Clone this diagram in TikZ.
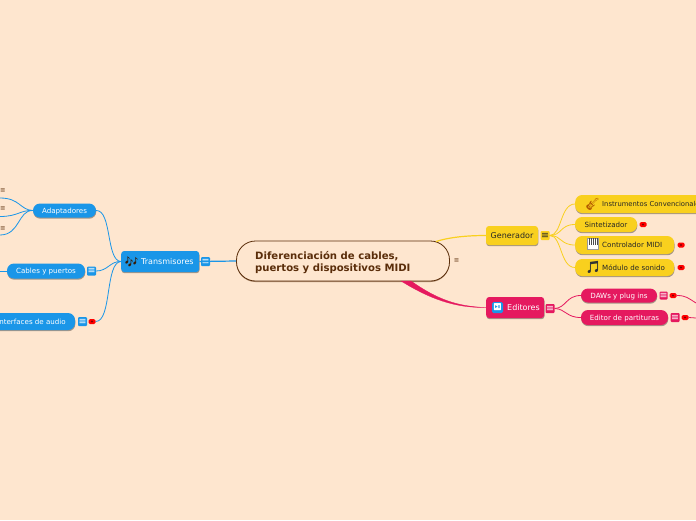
\documentclass[tikz,border=0pt]{standalone}
\usepackage{fontspec}
\setmainfont{DejaVu Sans}
\newfontfamily\emojifont{Noto Emoji}
\usetikzlibrary{shadows}
\definecolor{fondo}{HTML}{FEE6CF}
\definecolor{azul}{HTML}{1A96E8}
\definecolor{amarillo}{HTML}{F9D01E}
\definecolor{rosa}{HTML}{E5195F}
\definecolor{marron}{HTML}{5A2D0A}
\tikzset{
    sombra/.style={drop shadow={shadow xshift=0.3pt, shadow yshift=-1.2pt, opacity=0.35, fill=black}},
    caja/.style={rounded corners=3pt, sombra, inner sep=0pt, text height=6.6pt, text depth=0pt, font=\fontsize{8}{9}\selectfont},
    hoja/.style={rounded corners=7pt, sombra, inner sep=0pt, text height=5.6pt, text depth=0pt, font=\fontsize{7.1}{8}\selectfont},
    azulbox/.style={fill=azul, text=white},
    amarillobox/.style={fill=amarillo, text=black!85},
    rosabox/.style={fill=rosa, text=white},
    menu/.style={rounded corners=1pt, minimum size=9pt, inner sep=0pt, font=\fontsize{9.5}{9}\selectfont},
    menulibre/.style={inner sep=0pt, text=marron, font=\fontsize{6.5}{7}\selectfont},
    punto/.style={fill=red, rounded corners=1.5pt, minimum width=7pt, minimum height=5pt, inner sep=0pt,
        path picture={\fill[red!50!black] (path picture bounding box.center) circle (1.2pt);}},
    emoji/.style={inner sep=0pt, font=\emojifont\fontsize{12}{12}\selectfont},
    enlace/.style={line width=0.8pt}
}
\begin{document}
\begin{tikzpicture}[x=1pt, y=-1pt]
    \clip (0,0) rectangle (696,520);
    \fill[fondo] (0,0) rectangle (696,520);

    % Nodo central
    \node[draw=marron, line width=0.8pt, fill=fondo, rounded corners=19pt, minimum width=213pt, minimum height=40pt,
        drop shadow={shadow xshift=0pt, shadow yshift=-1pt, opacity=0.5, fill=marron}] (central) at (343,261) {};
    \node[anchor=west, align=left, inner sep=0pt, text=marron, font=\bfseries\fontsize{10.1}{12}\selectfont] (titulo) at (255,263)
        {Diferenciación de cables,\\puertos y dispositivos MIDI};
    \node[menulibre] (menucentral) at (456.5,261) {≡};

    % Transmisores
    \node[caja, azulbox, minimum height=21pt, anchor=west, align=left, text width=78pt] (transmisores) at (121,261.5) {\hspace*{20pt}Transmisores};
    \node[emoji, text=marron!60!black, font=\emojifont\fontsize{11}{11}\selectfont] (iconotrans) at (131.5,261.5) {🎶};
    \node[menu, azulbox] (menutrans) at (205.5,261.5) {≡};
    \node[hoja, azulbox, minimum width=63pt, minimum height=14pt] (adaptadores) at (64.5,210.5) {Adaptadores};
    \node[hoja, azulbox, minimum width=78pt, minimum height=15pt] (cables) at (46,271) {Cables y puertos};
    \node[menu, azulbox] (menucables) at (91.5,271) {≡};
    \node[hoja, azulbox, minimum width=87pt, minimum height=17pt] (interfaces) at (31.5,321.5) {Interfaces de audio};
    \node[menu, azulbox] (menuinter) at (82.5,321.5) {≡};
    \node[punto] (puntointer) at (92,321.5) {};
    \foreach \nombre/\y in {menua/191, menub/209, menuc/229} {
        \node[menulibre] (\nombre) at (2.9,\y) {≡};
    }
    \coordinate (salidaa) at (0,198);
    \coordinate (salidab) at (0,216.5);
    \coordinate (salidac) at (0,235);
    \coordinate (salidad) at (0,271);

    \draw[azul, line width=1.2pt] (transmisores.east) -- (central.west);
    \draw[azul, enlace] (transmisores.west) .. controls (106,261) and (112,210) .. (adaptadores.east);
    \draw[azul, enlace] (transmisores.west) .. controls (110,261) and (108,271) .. (menucables.east);
    \draw[azul, enlace] (transmisores.west) .. controls (105,262) and (112,321.5) .. (puntointer.east);
    \draw[azul, enlace] (adaptadores.west) .. controls (20,210) and (20,198) .. (salidaa);
    \draw[azul, enlace] (adaptadores.west) .. controls (20,210) and (18,216.5) .. (salidab);
    \draw[azul, enlace] (adaptadores.west) .. controls (18,210) and (20,235) .. (salidac);
    \draw[azul, enlace] (cables.west) -- (salidad);

    % Generador
    \node[caja, amarillobox, minimum width=52pt, minimum height=19pt] (generador) at (512,235.5) {Generador};
    \node[menu, amarillobox] (menugen) at (545,235.5) {≡};
    \node[hoja, amarillobox, minimum height=18pt, anchor=west, align=left, text width=135pt, font=\fontsize{6.8}{8}\selectfont] (instrumentos) at (575,204) {\hspace*{27pt}Instrumentos Convencionales};
    \node[emoji, text=orange!70!black] (iconoguitarra) at (592.5,204) {🎸};
    \node[hoja, amarillobox, minimum width=62pt, minimum height=15pt] (sintetizador) at (606,224.5) {Sintetizador};
    \node[punto] (puntosint) at (643,224.5) {};
    \node[hoja, amarillobox, minimum height=18pt, anchor=west, align=left, text width=99pt] (controlador) at (575,245) {\hspace*{27pt}Controlador MIDI};
    \node[draw=black!40, fill=white, minimum width=11pt, minimum height=11pt, inner sep=0pt] (iconopiano) at (593,244) {};
    \foreach \k in {-4,-2,0,2,4} {
        \fill[black!70] ([xshift=\k pt-0.4pt]iconopiano.north) rectangle +(0.9pt,-7pt);
    }
    \node[punto] (puntocontrol) at (681,245) {};
    \node[hoja, amarillobox, minimum height=17pt, anchor=west, align=left, text width=99pt] (modulo) at (575,267.5) {\hspace*{27pt}Módulo de sonido};
    \node[emoji, text=black!80] (iconomusica) at (593,267.5) {🎵};
    \node[punto] (puntomodulo) at (681,267.5) {};
    \coordinate (raizgen) at (436,241.5);

    \draw[amarillo, line width=1.2pt] (raizgen) .. controls (450,237) and (468,235.5) .. (generador.west);
    \foreach \hijo in {instrumentos, sintetizador, controlador, modulo} {
        \draw[amarillo, enlace] (menugen.east) .. controls (562,235.5) and (560,0 |- \hijo.west) .. (\hijo.west);
    }

    % Editores
    \node[caja, rosabox, minimum height=21pt, anchor=west, align=left, text width=58pt] (editores) at (486,307.5) {\hspace*{21pt}Editores};
    \node[fill=azul, rounded corners=1.5pt, text=white, minimum size=11pt, inner sep=0pt, font=\emojifont\fontsize{7}{7}\selectfont] (iconoeditores) at (497.5,307.5) {⏯};
    \node[menu, rosabox] (menuedit) at (550,308.5) {≡};
    \node[hoja, rosabox, minimum width=76pt, minimum height=14pt] (daws) at (619,295.5) {DAWs y plug ins};
    \node[menu, rosabox, minimum size=8pt] (menudaws) at (663.5,295.5) {≡};
    \node[punto] (puntodaws) at (673,295.5) {};
    \node[hoja, rosabox, minimum width=87pt, minimum height=15pt] (editor) at (624.5,317.5) {Editor de partituras};
    \node[menu, rosabox] (menueditor) at (675,317.5) {≡};
    \node[punto] (puntoeditor) at (685,317.5) {};
    \coordinate (raizedit) at (401,281);
    \coordinate (raizedit2) at (411,281);
    \coordinate (salidadaws) at (696,303);
    \coordinate (salidaeditor) at (696,318);

    \draw[rosa, fill=rosa, line width=0.3pt] (raizedit) .. controls (430,299) and (455,308) .. (editores.west)
        .. controls (458,306.5) and (438,300) .. (raizedit2) -- cycle;
    \draw[rosa, enlace] (menuedit.east) .. controls (566,308) and (566,295.5) .. (daws.west);
    \draw[rosa, enlace] (menuedit.east) .. controls (566,309) and (566,317.5) .. (editor.west);
    \draw[rosa, enlace] (puntodaws.east) .. controls (686,295.5) and (688,298) .. (salidadaws);
    \draw[rosa, enlace] (puntoeditor.east) -- (salidaeditor);
\end{tikzpicture}
\end{document}
